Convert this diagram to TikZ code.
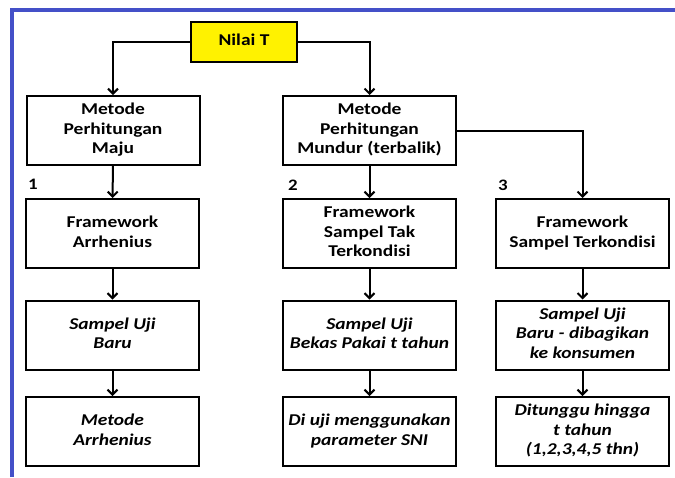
\documentclass[tikz,border=0pt]{standalone}
\usepackage{fontspec}
\setmainfont{Carlito}
\usepackage{xcolor}
\usetikzlibrary{arrows.meta}
\definecolor{bingkai}{RGB}{68,80,200}
\newcommand{\isi}[1]{\scalebox{1.18}[1]{\begin{tabular}{@{}c@{}}#1\end{tabular}}}

\begin{document}
\begin{tikzpicture}[x=1pt,y=-1pt,
  kotak/.style={draw,line width=2pt,minimum width=173pt,minimum height=69pt,align=center,font=\fontsize{16.5}{19.5}\selectfont\bfseries},
  miring/.style={kotak,font=\fontsize{16.5}{19.5}\selectfont\bfseries\itshape},
  nomor/.style={font=\fontsize{16}{18}\selectfont\bfseries,inner sep=0pt},
  panah/.style={line width=2pt,-{Straight Barb[length=5pt,width=10pt,line width=2pt]}}]
\useasboundingbox (0,0) rectangle (675,477);
%\draw[help lines] (0,0) grid[step=50] (675,477);
\draw [bingkai,line width=3.5pt] (12,477) -- (12,10) -- (675,10);
\node  [kotak,fill=yellow,minimum width=106pt,minimum height=40pt] (nilai) at (244,42){\isi{Nilai T}};
\node  [kotak] (A1) at (113,130.5){\isi{Metode\\Perhitungan\\Maju}};
\node  [kotak] (B1) at (369.5,130.5){\isi{Metode\\Perhitungan\\Mundur (terbalik)}};
\node  [kotak] (A2) at (112.5,233.5){\isi{Framework\\Arrhenius}};
\node  [kotak] (B2) at (369.5,233.5){\isi{Framework\\Sampel Tak\\Terkondisi}};
\node  [kotak] (C2) at (582.5,233.5){\isi{Framework\\Sampel Terkondisi}};
\node  [miring] (A3) at (112.5,335){\isi{Sampel Uji\\Baru}};
\node  [miring] (B3) at (369.5,335){\isi{Sampel Uji\\Bekas Pakai t tahun}};
\node  [miring] (C3) at (582.5,335){\isi{Sampel Uji\\Baru - dibagikan\\ke konsumen}};
\node  [miring] (A4) at (112.5,431.5){\isi{Metode\\Arrhenius}};
\node  [miring] (B4) at (369.5,431.5){\isi{Di uji menggunakan\\parameter SNI}};
\node  [miring] (C4) at (582.5,431.5){\isi{Ditunggu hingga\\t tahun\\(1,2,3,4,5 thn)}};
\node  [nomor,anchor=south west] (n1) at (28,195){\isi{1}};
\node  [nomor,anchor=south west] (n2) at (288,196){\isi{2}};
\node  [nomor,anchor=south west] (n3) at (498,196){\isi{3}};
\draw [panah] (nilai.west) -| (A1.north);
\draw [panah] (nilai.east) -| (B1.north);
\draw [panah] (B1.east) -| (C2.north);
\draw [panah] (A1) -- (A2);
\draw [panah] (A2) -- (A3);
\draw [panah] (A3) -- (A4);
\draw [panah] (B1) -- (B2);
\draw [panah] (B2) -- (B3);
\draw [panah] (B3) -- (B4);
\draw [panah] (C2) -- (C3);
\draw [panah] (C3) -- (C4);
\end{tikzpicture}
\end{document}
